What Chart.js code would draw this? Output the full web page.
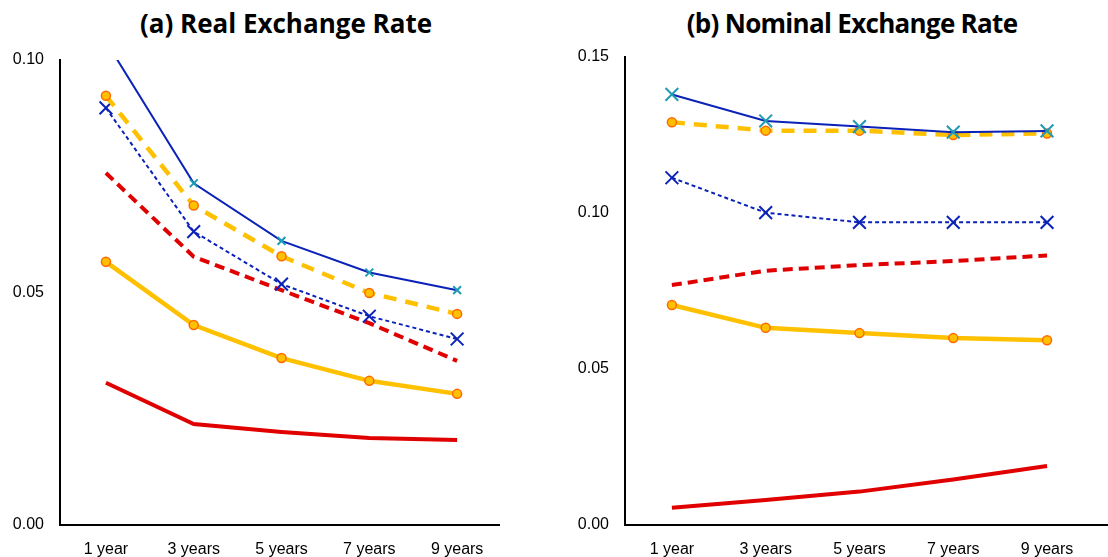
<!DOCTYPE html>
<html><head><meta charset="utf-8">
<script src="https://cdn.jsdelivr.net/npm/chart.js@4.4.1/dist/chart.umd.min.js"></script>
<style>
html,body{margin:0;padding:0;background:#fff;overflow:hidden;width:1108px;height:557px;}
canvas{position:absolute;top:0;}
.title{position:absolute;top:5px;font-family:'Open Sans',sans-serif;font-weight:700;font-size:26px;line-height:36px;color:#000;white-space:nowrap;transform:translateX(-50%);}
</style></head>
<body>
<div class="title" id="t1" style="left:286px;">(a) Real Exchange Rate</div>
<div class="title" id="t2" style="left:852px;letter-spacing:-0.7px;">(b) Nominal Exchange Rate</div>
<canvas id="c1" width="555" height="557" style="left:0px;width:555px;height:557px;"></canvas>
<canvas id="c2" width="553" height="557" style="left:555px;width:553px;height:557px;"></canvas>
<script>
// ---- data ----
const categories = ['1 year', '3 years', '5 years', '7 years', '9 years'];

const realBlueSolid    = [0.1040, 0.0735, 0.0611, 0.0543, 0.0505];
const realYellowDashed = [0.0923, 0.0687, 0.0578, 0.0499, 0.0454];
const realBlueDotted   = [0.0897, 0.0631, 0.0518, 0.0449, 0.0400];
const realRedDashed    = [0.0757, 0.0577, 0.0505, 0.0434, 0.0353];
const realYellowSolid  = [0.0566, 0.0430, 0.0359, 0.0310, 0.0282];
const realRedSolid     = [0.0306, 0.0217, 0.0200, 0.0187, 0.0183];

const nomBlueSolid    = [0.1380, 0.1295, 0.1277, 0.1259, 0.1263];
const nomYellowDashed = [0.1291, 0.1264, 0.1264, 0.1250, 0.1255];
const nomBlueDotted   = [0.1113, 0.1001, 0.0970, 0.0970, 0.0970];
const nomRedDashed    = [0.0769, 0.0815, 0.0833, 0.0846, 0.0864];
const nomYellowSolid  = [0.0705, 0.0632, 0.0615, 0.0599, 0.0592];
const nomRedSolid     = [0.0055, 0.0080, 0.0107, 0.0146, 0.0189];

const realTicks = [0, 0.05, 0.10];
const nomTicks = [0, 0.05, 0.10, 0.15];

// ---- styles ----
const BLUE = '#0A22B8', CYAN = '#1E9AB4', YELLOW = '#FFC000', ORANGE = '#FF6A00', RED = '#E00000';
const tickFont = {family: "'Liberation Sans', Arial, sans-serif", size: 16};

function pts(arr){ return arr.map((v,i)=>({x:i, y:v})); }

function makeDatasets(bs, yd, bd, rd, ys, rs, cyanR){
  return [
    {label:'Series 1', data:pts(bs), borderColor:BLUE, borderWidth:2, pointStyle:'crossRot', pointRadius:cyanR, pointBorderColor:CYAN, pointBackgroundColor:CYAN, pointBorderWidth:2},
    {label:'Series 2', data:pts(yd), borderColor:YELLOW, borderWidth:4.5, borderDash:[13,9], pointStyle:'circle', pointRadius:4.5, pointBorderColor:ORANGE, pointBackgroundColor:YELLOW, pointBorderWidth:1.5},
    {label:'Series 3', data:pts(bd), borderColor:BLUE, borderWidth:2, borderDash:[4,3], pointStyle:'crossRot', pointRadius:9, pointBorderColor:BLUE, pointBackgroundColor:BLUE, pointBorderWidth:2},
    {label:'Series 4', data:pts(rd), borderColor:RED, borderWidth:4, borderDash:[10,6], pointRadius:0},
    {label:'Series 5', data:pts(ys), borderColor:YELLOW, borderWidth:4.5, pointStyle:'circle', pointRadius:4.5, pointBorderColor:ORANGE, pointBackgroundColor:YELLOW, pointBorderWidth:1.5},
    {label:'Series 6', data:pts(rs), borderColor:RED, borderWidth:4, pointRadius:0}
  ];
}

function makeChart(id, datasets, yTicks, yMax, yWidth, xMin, xMax, pad){
  return new Chart(document.getElementById(id), {
    type:'line',
    data:{datasets},
    options:{
      responsive:false, animation:false, devicePixelRatio:1,
      layout:{padding:pad, autoPadding:false},
      plugins:{legend:{display:false}, title:{display:false}, tooltip:{enabled:false}},
      elements:{line:{tension:0, fill:false}},
      scales:{
        x:{type:'linear', min:xMin, max:xMax,
           grid:{display:false, drawTicks:false},
           border:{display:true, color:'#000', width:2},
           afterBuildTicks:(s)=>{ s.ticks = categories.map((c,i)=>({value:i})); },
           afterFit:(s)=>{ s.height = 32; s.paddingLeft = 0; s.paddingRight = 0; },
           ticks:{padding:15, autoSkip:false, maxRotation:0, color:'#000', font:tickFont,
                  callback:(v)=>categories[v]}},
        y:{type:'linear', min:0, max:yMax,
           grid:{display:false, drawTicks:false},
           border:{display:true, color:'#000', width:2},
           afterBuildTicks:(s)=>{ s.ticks = yTicks.map(v=>({value:v})); },
           afterFit:(s)=>{ s.width = yWidth; },
           ticks:{padding:16, color:'#000', font:tickFont, callback:(v)=>Number(v).toFixed(2)}}
      }
    }
  });
}

makeChart('c1', makeDatasets(realBlueSolid, realYellowDashed, realBlueDotted, realRedDashed, realYellowSolid, realRedSolid, 5.5),
          realTicks, 0.10, 60, -0.523, 4.477, {top:60, right:56, bottom:0, left:0});
makeChart('c2', makeDatasets(nomBlueSolid, nomYellowDashed, nomBlueDotted, nomRedDashed, nomYellowSolid, nomRedSolid, 9),
          nomTicks, 0.15, 70, -0.5, 4.65, {top:57, right:0, bottom:0, left:0});
</script>
</body></html>
